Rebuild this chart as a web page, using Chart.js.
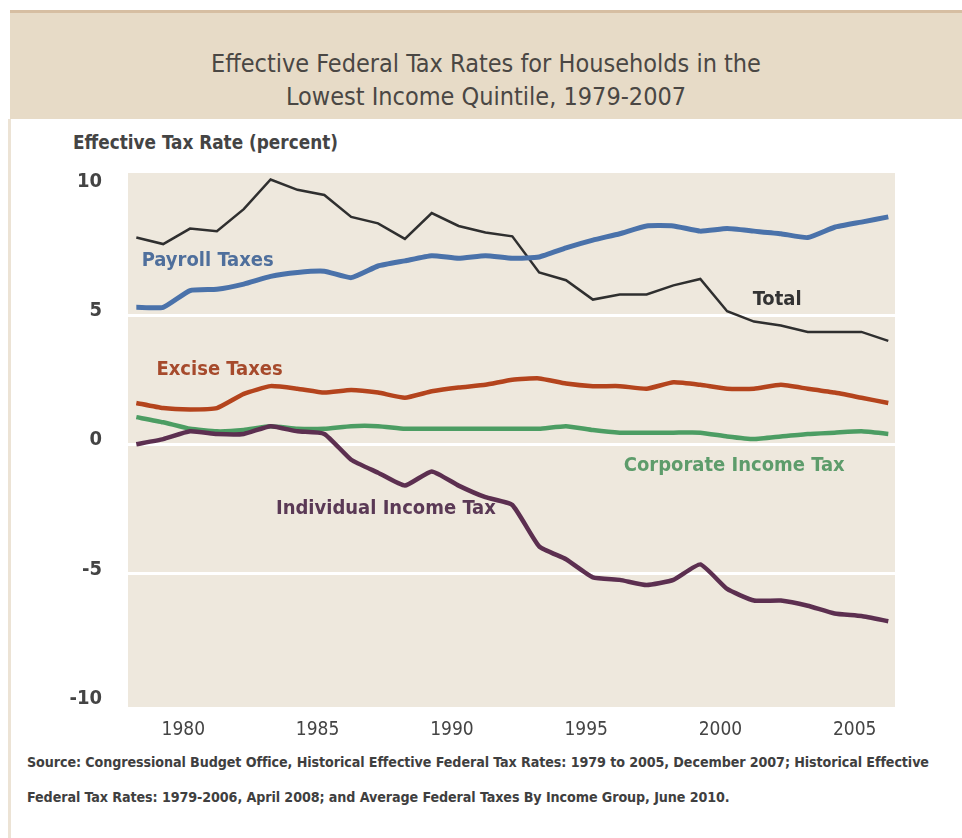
<html>
<head>
    <script src="https://cdn.jsdelivr.net/npm/chart.js@4.4.0/dist/chart.umd.min.js"></script>
    <style>
        body {
            margin: 0;
            background: #fff;
            width: 962px;
            height: 838px;
            position: relative;
            overflow: hidden;
            font-family: "Liberation Sans Narrow", "DejaVu Sans Condensed", sans-serif;
            color: #454545;
        }
        #header {
            position: absolute;
            left: 10px;
            right: 0;
            top: 10px;
            height: 106px;
            background: #e7dbc7;
            border-top: 3px solid #d6bea2;
        }
        #title {
            position: absolute;
            left: 0;
            right: 0;
            top: 34px;
            text-align: center;
            font-size: 25px;
            line-height: 33px;
            color: #4a4744;
        }
        #leftEdge {
            position: absolute;
            left: 8px;
            top: 119px;
            width: 3px;
            bottom: 0;
            background: #ece3d5;
        }
        #yTitle {
            position: absolute;
            left: 73px;
            top: 132px;
            font-size: 18.8px;
            font-weight: bold;
            color: #444;
        }
        #source {
            position: absolute;
            left: 27px;
            top: 745px;
            font-size: 14.2px;
            font-weight: bold;
            line-height: 35px;
            color: #3f3f3f;
            letter-spacing: -0.1px;
        }
        #chartBox {
            position: absolute;
            left: 0;
            top: 0;
            width: 962px;
            height: 838px;
        }
    </style>
</head>
<body>
    <div id="header">
        <div id="title">Effective Federal Tax Rates for Households in the<br>Lowest Income Quintile, 1979-2007</div>
    </div>
    <div id="leftEdge"></div>
    <div id="yTitle">Effective Tax Rate (percent)</div>
    <div id="source">Source: Congressional Budget Office, Historical Effective Federal Tax Rates: 1979 to 2005, December 2007; Historical Effective<br>Federal Tax Rates: 1979-2006, April 2008; and Average Federal Taxes By Income Group, June 2010.</div>
    <div id="chartBox">
        <canvas id="taxChart" width="962" height="838"></canvas>
    </div>
    <script>
        // years 1979..2007
        const years = [1979, 1980, 1981, 1982, 1983, 1984, 1985, 1986, 1987, 1988,
            1989, 1990, 1991, 1992, 1993, 1994, 1995, 1996, 1997, 1998,
            1999, 2000, 2001, 2002, 2003, 2004, 2005, 2006, 2007];

        // values (percent)
        const total = [8.0, 7.75, 8.35, 8.25, 9.1, 10.25, 9.85, 9.65, 8.8, 8.55,
            7.95, 8.95, 8.45, 8.2, 8.05, 6.65, 6.35, 5.6, 5.8, 5.8,
            6.15, 6.4, 5.15, 4.75, 4.6, 4.35, 4.35, 4.35, 4.0];
        const payroll = [5.3, 5.3, 5.95, 6.0, 6.2, 6.5, 6.65, 6.7, 6.45, 6.9,
            7.1, 7.3, 7.2, 7.3, 7.2, 7.25, 7.6, 7.9, 8.15, 8.45,
            8.45, 8.25, 8.35, 8.25, 8.15, 8.0, 8.4, 8.6, 8.8];
        const excise = [1.6, 1.4, 1.35, 1.4, 1.95, 2.25, 2.15, 2.0, 2.1, 2.0,
            1.8, 2.05, 2.2, 2.3, 2.5, 2.55, 2.35, 2.25, 2.25, 2.15,
            2.4, 2.3, 2.15, 2.15, 2.3, 2.15, 2.0, 1.8, 1.6];
        const corporate = [1.05, 0.85, 0.6, 0.5, 0.55, 0.7, 0.6, 0.6, 0.7, 0.7,
            0.6, 0.6, 0.6, 0.6, 0.6, 0.6, 0.7, 0.55, 0.45, 0.45,
            0.45, 0.45, 0.3, 0.2, 0.3, 0.4, 0.45, 0.5, 0.4];
        const individual = [0.0, 0.2, 0.5, 0.4, 0.4, 0.7, 0.5, 0.4, -0.6, -1.1,
            -1.6, -1.05, -1.6, -2.05, -2.35, -3.95, -4.45, -5.15, -5.25, -5.45,
            -5.25, -4.65, -5.6, -6.05, -6.05, -6.25, -6.55, -6.65, -6.85];

        const tickYears = [1980, 1985, 1990, 1995, 2000, 2005];
        const yTicks = [10, 5, 0, -5, -10];
        const gridValues = [5, 0, -5];

        // the source chart puts its year labels about 3/4 of a year right of the points
        const labelShift = 0.75;

        // inline series labels: [text, year, value, colour]
        const seriesLabels = [
            ["Payroll Taxes", 1979.2, 7.1, "#4f6f9c"],
            ["Excise Taxes", 1979.75, 2.88, "#a64a2c"],
            ["Total", 2001.95, 5.6, "#333333"],
            ["Corporate Income Tax", 1997.15, -0.82, "#5d9c6b"],
            ["Individual Income Tax", 1984.2, -2.5, "#5a3955"]
        ];

        const FONT = '"Liberation Sans Narrow", "DejaVu Sans Condensed", sans-serif';

        const plotBackground = {
            id: "plotBackground",
            beforeDraw(chart) {
                const { ctx, chartArea } = chart;
                ctx.save();
                ctx.fillStyle = "#eee8dd";
                ctx.fillRect(chartArea.left, chartArea.top, chartArea.right - chartArea.left, chartArea.bottom - chartArea.top);
                ctx.restore();
            }
        };

        const inlineLabels = {
            id: "inlineLabels",
            afterDatasetsDraw(chart) {
                const { ctx, scales } = chart;
                ctx.save();
                ctx.font = "bold 20px " + FONT;
                ctx.textBaseline = "middle";
                ctx.textAlign = "left";
                seriesLabels.forEach(([text, yr, val, color]) => {
                    ctx.fillStyle = color;
                    ctx.fillText(text, scales.x.getPixelForValue(yr), scales.y.getPixelForValue(val));
                });
                ctx.restore();
            }
        };

        function series(values) {
            return values.map((v, i) => ({ x: years[i], y: v }));
        }

        const chart = new Chart(document.getElementById("taxChart"), {
            type: "line",
            data: {
                datasets: [
                    { label: "Individual Income Tax", data: series(individual), borderColor: "#5c2f50", borderWidth: 4.5, tension: 0.15 },
                    { label: "Corporate Income Tax", data: series(corporate), borderColor: "#4c9d63", borderWidth: 4.5, tension: 0.15 },
                    { label: "Excise Taxes", data: series(excise), borderColor: "#b4441d", borderWidth: 4.5, tension: 0.15 },
                    { label: "Payroll Taxes", data: series(payroll), borderColor: "#4a72aa", borderWidth: 5, tension: 0.15 },
                    { label: "Total", data: series(total), borderColor: "#2f2f2f", borderWidth: 2.5, tension: 0 }
                ]
            },
            options: {
                responsive: false,
                animation: false,
                elements: { point: { radius: 0 } },
                layout: { padding: { left: 58, right: 67, top: 173, bottom: 91 } },
                scales: {
                    x: {
                        type: "linear",
                        min: 1978.69,
                        max: 2007.25,
                        afterBuildTicks: (scale) => {
                            scale.ticks = tickYears.map(y => ({ value: y + labelShift }));
                        },
                        afterFit: (scale) => { scale.height = 40; },
                        grid: { display: false, drawTicks: false },
                        border: { display: false },
                        ticks: {
                            padding: 12,
                            maxRotation: 0,
                            autoSkip: false,
                            color: "#444",
                            font: { family: FONT, size: 19 },
                            callback: (v) => String(Math.round(v - labelShift))
                        }
                    },
                    y: {
                        min: -10.17,
                        max: 10.5,
                        afterBuildTicks: (scale) => {
                            scale.ticks = yTicks.map(v => ({ value: v }));
                        },
                        afterFit: (scale) => { scale.width = 70; },
                        grid: {
                            drawTicks: false,
                            lineWidth: 3,
                            color: (c) => gridValues.includes(c.tick.value) ? "#ffffff" : "rgba(0,0,0,0)"
                        },
                        border: { display: false },
                        ticks: {
                            padding: 26,
                            labelOffset: -4,
                            color: "#444",
                            font: { family: FONT, size: 20, weight: "bold" },
                            callback: (v) => String(v)
                        }
                    }
                },
                plugins: {
                    legend: { display: false },
                    tooltip: { enabled: false },
                    title: { display: false }
                }
            },
            plugins: [plotBackground, inlineLabels]
        });
    </script>
</body>
</html>
